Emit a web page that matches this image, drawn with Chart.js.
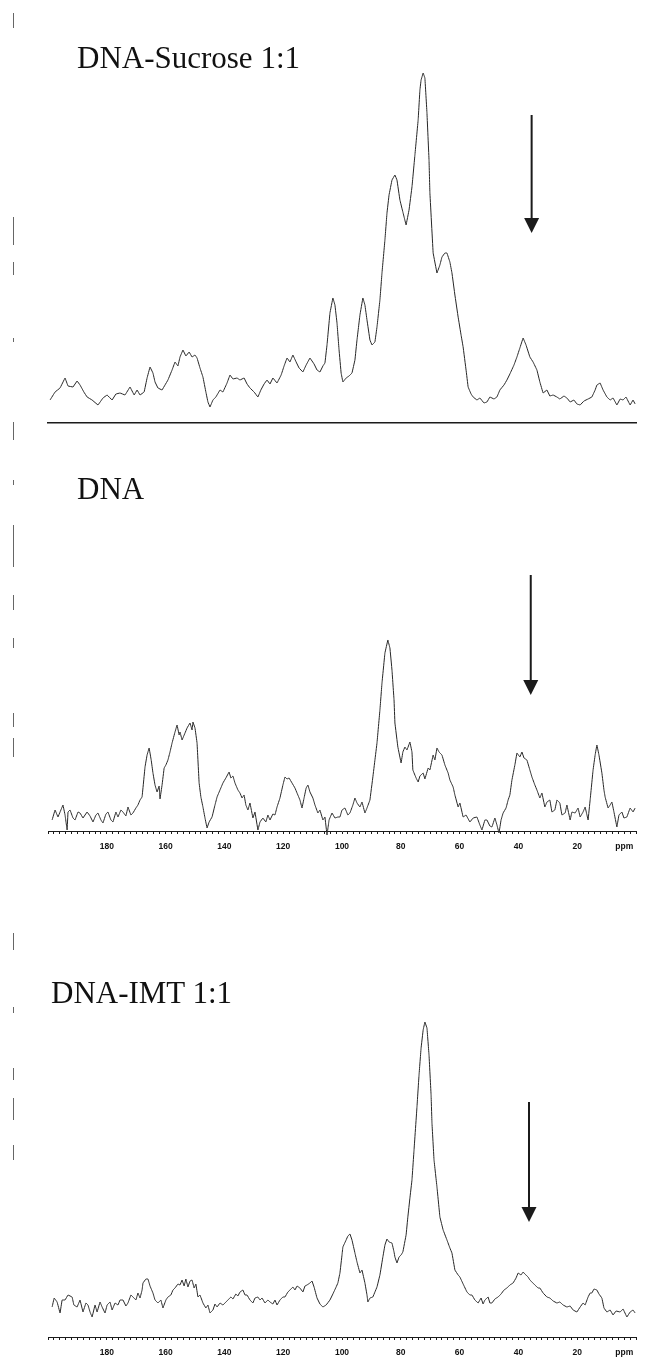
<!DOCTYPE html>
<html>
<head>
<meta charset="utf-8">
<script src="https://cdn.jsdelivr.net/npm/chart.js@4.4.1/dist/chart.umd.min.js"></script>
<style>
  html, body { margin: 0; padding: 0; background: #fff; }
  #page { position: relative; width: 645px; height: 1372px; overflow: hidden; background: #fff; }
  #page canvas { position: absolute; left: 0; }
  .title { position: absolute; font-family: 'Liberation Serif', 'Times New Roman', serif; font-size: 31px; line-height: 31px; color: #111; white-space: nowrap; }
  .edge { position: absolute; left: 13px; width: 1px; background: #666; }
</style>
</head>
<body>
<div id="page">
  <canvas id="sucroseChart" width="645" height="440" style="top:0"></canvas>
  <canvas id="dnaChart" width="645" height="440" style="top:440px"></canvas>
  <canvas id="imtChart" width="645" height="492" style="top:880px"></canvas>
  <div class="title" style="left:77px;top:42px">DNA-Sucrose 1:1</div>
  <div class="title" style="left:77px;top:473px">DNA</div>
  <div class="title" style="left:51px;top:977px">DNA-IMT 1:1</div>
</div>
<script>
Chart.defaults.font.family = "'Liberation Sans', sans-serif";
Chart.defaults.color = '#111';

const INK = '#1b1b1b';
const TRACE = '#262626';

// chemical shift axis (ppm), high field on the right
const tickLabels = [180, 160, 140, 120, 100, 80, 60, 40, 20];
const unitTick = 4;   // where the "ppm" unit sits on the axis

// DNA-Sucrose 1:1
const sucrosePpm = [199.3,197.6,195.9,194.2,193.2,191.5,190.1,189.1,187.8,186.7,
  185.0,183.0,181.3,179.9,178.2,176.9,175.5,173.8,172.1,170.7,
  169.7,168.7,167.3,166.3,165.3,164.3,163.6,162.6,161.2,160.2,
  159.2,157.8,156.8,155.8,155.1,154.1,153.1,152.0,151.0,150.0,
  149.3,148.3,147.3,146.3,145.6,144.9,143.9,142.9,141.5,140.5,
  139.1,138.1,137.1,135.7,134.7,133.3,132.3,131.3,129.9,128.6,
  127.6,126.5,125.5,124.5,123.5,122.1,120.7,119.7,118.7,117.7,
  116.7,115.6,114.6,113.3,112.2,110.9,109.5,108.5,107.5,106.5,
  105.8,105.1,104.1,103.1,102.4,101.7,101.0,100.3,99.7,98.6,
  97.6,96.6,95.6,94.9,93.9,92.9,92.2,91.5,90.5,89.8,
  88.8,88.1,87.1,86.4,85.4,84.7,84.0,83.0,82.0,81.3,
  80.3,79.3,78.2,77.2,76.2,75.2,74.1,73.5,73.1,72.4,
  71.8,71.1,70.4,70.1,69.0,67.7,66.7,66.0,65.0,64.3,
  63.3,62.6,61.6,60.5,59.5,58.8,57.8,57.1,56.1,55.4,
  54.1,53.1,51.7,50.7,49.7,48.3,47.3,46.3,44.9,43.9,
  42.9,41.5,40.5,39.5,38.4,37.4,36.1,35.0,33.7,32.7,
  31.6,30.3,29.3,28.2,26.9,25.9,24.5,23.5,22.4,21.1,
  20.1,19.0,17.7,16.3,15.0,13.9,13.3,12.2,11.2,9.9,
  8.8,7.8,6.5,5.4,4.4,3.4,2.0,1.0,0.3];
const sucroseInt = [23,31,35,45,37,36,42,38,31,26,
  23,18,25,28,23,29,30,28,36,28,
  33,28,31,45,56,50,41,35,33,38,
  43,53,61,57,66,73,67,71,66,68,
  65,55,46,31,21,16,23,26,33,31,
  40,48,44,45,43,45,39,35,31,26,
  33,39,43,39,45,40,48,57,65,61,
  68,61,55,51,58,65,59,53,51,57,
  60,78,110,125,118,100,73,50,41,45,
  47,50,63,83,108,125,118,103,83,78,
  81,96,123,150,183,210,228,243,248,243,
  223,211,198,213,236,268,303,333,343,350,
  345,310,263,230,170,150,158,166,170,170,
  161,150,128,106,88,76,53,36,29,26,
  23,25,20,21,26,24,26,33,38,43,
  49,58,66,75,85,78,66,61,53,41,
  30,33,27,28,26,24,27,25,21,23,
  19,18,22,24,26,33,38,40,33,26,
  23,25,18,24,23,26,18,23,19];

// DNA
const dnaPpm = [198.6,197.6,196.6,195.9,194.9,194.2,193.5,193.2,192.5,191.5,
  190.8,189.8,189.1,188.1,186.7,185.7,184.7,183.7,183.0,182.0,
  181.3,180.3,179.6,178.6,177.9,176.9,176.2,175.2,174.5,173.5,
  172.8,171.8,171.1,170.1,169.4,168.7,168.0,167.0,166.3,165.6,
  164.9,164.3,163.6,162.9,162.2,161.9,161.2,160.5,159.9,159.2,
  158.5,157.8,156.8,156.1,155.4,155.1,154.4,153.4,152.7,151.7,
  151.0,150.7,150.0,149.3,148.6,148.0,147.3,146.6,145.9,145.2,
  144.2,143.2,142.5,141.5,140.5,139.5,138.4,137.8,137.1,136.4,
  135.4,134.7,134.0,133.3,132.7,132.0,131.3,130.3,129.6,128.6,
  127.9,126.9,125.9,125.2,124.5,123.5,122.8,122.1,121.1,120.1,
  119.4,118.7,118.0,117.0,116.0,115.3,114.3,113.6,112.9,112.2,
  111.6,110.9,109.9,109.2,108.2,107.5,106.5,105.8,105.1,104.4,
  103.4,102.4,101.4,100.7,100.0,99.0,98.0,97.3,96.3,95.6,
  94.9,93.9,93.2,92.2,91.5,90.5,89.5,88.8,88.1,87.1,
  86.4,85.4,84.4,83.7,83.0,82.3,82.0,81.0,79.9,79.3,
  78.6,77.9,76.9,76.2,75.9,74.8,74.1,73.5,72.4,71.8,
  70.7,70.1,69.0,68.4,67.7,67.0,66.0,65.0,63.9,63.3,
  62.2,61.6,60.5,59.9,58.8,57.8,56.5,55.4,54.1,53.1,
  52.4,51.4,50.7,49.7,49.0,48.0,47.3,46.6,45.9,45.2,
  44.2,43.5,42.9,42.2,41.2,40.5,39.5,38.8,38.1,37.1,
  36.1,35.4,34.4,33.7,32.7,32.0,31.0,30.3,29.3,28.6,
  27.6,26.9,25.9,25.2,24.1,23.5,22.4,21.8,20.7,19.7,
  19.0,18.0,17.3,16.3,15.6,14.6,13.9,13.3,12.6,11.6,
  10.9,10.5,9.5,8.8,8.2,7.5,6.5,5.8,4.8,4.1,
  3.1,2.0,1.0,0.3];
const dnaInt = [11,21,14,19,26,16,1,19,21,13,
  11,19,18,13,19,15,9,16,18,11,
  8,17,19,11,9,19,14,21,19,15,
  24,16,18,23,26,31,34,64,76,83,
  71,58,46,39,45,32,46,63,66,71,
  79,88,99,106,96,99,91,98,103,108,
  101,109,103,88,48,34,24,13,3,9,
  14,26,34,41,48,53,59,53,55,48,
  41,38,33,36,26,21,28,13,19,1,
  9,13,9,16,11,17,16,24,33,46,
  54,52,53,48,43,38,31,23,33,43,
  46,39,33,26,18,21,11,14,-4,11,
  18,13,14,14,21,23,16,18,26,33,
  28,24,29,18,23,31,54,71,88,121,
  148,178,191,183,161,131,108,84,68,79,
  84,81,89,79,61,53,49,55,58,52,
  63,61,76,71,83,79,76,66,58,51,
  44,36,24,28,14,16,9,13,14,6,
  1,11,11,5,4,13,6,-2,11,18,
  23,31,36,51,66,78,74,79,73,71,
  61,54,46,41,33,38,24,29,31,19,
  21,31,28,16,18,26,11,19,18,23,
  14,19,24,11,31,61,76,86,76,58,
  41,34,23,26,29,19,4,16,19,13,
  14,23,19,23];

// DNA-IMT 1:1
const imtPpm = [198.6,197.9,196.9,195.9,195.2,194.2,193.2,191.8,191.2,190.1,
  189.1,188.1,187.1,186.4,185.7,185.0,184.0,183.3,182.3,181.6,
  180.6,179.9,178.9,178.2,177.2,176.2,175.5,174.5,173.5,172.8,
  171.8,171.1,170.1,169.4,168.7,168.0,167.7,166.7,166.0,165.3,
  164.3,163.6,162.6,161.6,160.9,159.9,159.2,158.2,157.5,156.8,
  155.8,155.1,154.4,153.7,153.1,152.4,151.7,151.0,150.3,149.7,
  149.0,148.3,147.3,146.3,145.6,144.9,143.9,143.2,142.5,141.5,
  140.5,139.8,138.8,137.8,137.1,136.1,135.4,134.7,133.7,133.0,
  132.3,131.3,130.3,129.6,128.6,127.9,127.2,126.2,125.2,124.5,
  123.5,122.8,122.1,121.1,120.1,119.4,118.4,117.7,116.7,116.0,
  115.3,114.3,113.3,112.6,111.9,110.9,110.2,109.5,108.5,107.5,
  106.5,105.4,104.1,103.1,102.0,101.4,100.7,100.0,99.7,98.6,
  98.0,97.3,96.6,95.6,94.9,93.9,93.2,92.2,91.5,91.2,
  90.5,89.5,88.8,88.1,87.1,86.1,85.4,84.7,84.0,83.0,
  82.3,82.0,81.3,80.6,79.9,79.3,78.2,77.6,76.9,76.2,
  75.5,74.5,73.8,73.1,72.4,71.8,71.1,70.4,69.7,69.4,
  68.7,67.7,66.7,65.6,64.3,63.3,62.6,61.6,60.5,59.9,
  58.8,57.5,56.5,55.8,54.8,53.7,52.7,52.0,51.4,50.3,
  49.7,49.0,48.0,46.9,45.9,44.9,43.9,42.9,41.8,40.8,
  40.1,39.1,38.4,37.8,36.7,36.1,35.4,34.4,33.3,32.7,
  31.6,30.3,29.3,28.2,26.9,25.9,24.8,23.5,22.4,21.4,
  20.1,19.0,18.0,17.3,16.3,15.6,15.0,14.3,13.3,12.6,
  11.6,10.9,9.9,8.8,7.8,6.8,5.4,4.4,3.1,2.0,
  1.0,0.3];
const imtInt = [30,39,35,24,37,37,42,40,32,30,
  37,25,34,32,25,20,32,25,35,30,
  24,32,35,27,34,32,37,37,31,34,
  42,40,37,44,39,47,54,58,58,51,
  44,37,34,37,29,37,40,42,47,49,
  53,52,57,51,58,50,56,57,49,53,
  40,42,34,29,32,24,27,33,30,34,
  32,34,37,40,38,43,41,45,47,42,
  42,37,34,39,40,37,39,34,37,35,
  33,37,32,37,40,40,45,47,50,47,
  51,49,45,51,52,54,56,50,39,33,
  30,32,37,43,50,54,64,82,90,97,
  101,103,97,84,75,64,67,54,42,35,
  39,40,45,50,62,80,92,98,95,94,
  85,80,74,80,82,85,102,120,139,157,
  187,230,262,289,307,315,309,282,242,214,
  177,150,120,107,97,89,84,67,62,60,
  53,45,42,42,37,34,39,33,37,40,
  34,34,38,40,43,47,49,52,54,59,
  64,62,65,63,60,57,55,52,49,49,
  44,40,39,36,34,35,32,30,31,27,
  25,30,34,32,40,44,44,48,47,43,
  39,29,25,27,22,26,25,28,20,25,
  27,24];

// arrow marks: [ppm, top intensity, tip intensity]
const sucroseArrow = [35.5, 308, 190];
const dnaArrow = [35.8, 256, 136];
const imtArrow = [36.4, 235, 115];

// little bars along the left edge of the sheet
const edgeMarks = [[13,28],[217,245],[262,275],[338,342],[422,440],[480,485],[525,567],
  [595,610],[638,648],[713,727],[738,757],[933,950],[1007,1013],[1068,1080],[1098,1120],[1145,1160]];

edgeMarks.forEach(([a, b]) => {
    const d = document.createElement('div');
    d.className = 'edge';
    d.style.top = a + 'px';
    d.style.height = (b - a) + 'px';
    document.getElementById('page').appendChild(d);
});

const arrowPlugin = {
    id: 'arrowMark',
    afterDatasetsDraw(chart, args, opts) {
        const { ctx, scales: { x, y } } = chart;
        const [ppm, top, tip] = opts.spec;
        const px = x.getPixelForValue(ppm);
        const y0 = y.getPixelForValue(top);
        const y1 = y.getPixelForValue(tip);
        ctx.save();
        ctx.strokeStyle = INK;
        ctx.fillStyle = INK;
        ctx.lineWidth = 2;
        ctx.beginPath();
        ctx.moveTo(px, y0);
        ctx.lineTo(px, y1 - 12);
        ctx.stroke();
        ctx.beginPath();
        ctx.moveTo(px - 7.5, y1 - 15);
        ctx.lineTo(px + 7.5, y1 - 15);
        ctx.lineTo(px, y1);
        ctx.closePath();
        ctx.fill();
        ctx.restore();
    }
};

function makeSpectrum(id, ppm, ints, arrow, cfg) {
    const pts = ppm.map((p, i) => ({ x: p, y: ints[i] }));
    return new Chart(document.getElementById(id), {
        type: 'line',
        data: {
            datasets: [{
                // tiny tension keeps Chart.js off its per-pixel fast path,
                // which would merge close points into vertical strokes
                data: pts, borderColor: TRACE, borderWidth: 1,
                pointRadius: 0, tension: 0.01, fill: false, clip: false
            }]
        },
        options: {
            responsive: false, animation: false,
            layout: { padding: { left: 48, right: 9, top: cfg.top, bottom: cfg.bottom } },
            plugins: { legend: { display: false }, tooltip: { enabled: false }, arrowMark: { spec: arrow } },
            scales: {
                x: {
                    type: 'linear', reverse: true, min: 0, max: 200,
                    border: { display: true, color: INK, width: cfg.labels ? 1 : 1.5 },
                    grid: { display: cfg.labels, drawOnChartArea: false, drawTicks: true, tickLength: 3, color: INK, lineWidth: 1 },
                    ticks: {
                        display: cfg.labels, stepSize: 2, maxTicksLimit: 101, autoSkip: false,
                        maxRotation: 0, padding: 8, color: '#111',
                        font: { size: 8.5, weight: 'bold' },
                        callback: v => {
                            const r = Math.round(v);
                            if (tickLabels.includes(r)) return String(r);
                            return r === unitTick ? 'ppm' : '';
                        }
                    },
                    afterFit: s => { s.height = cfg.labels ? 24 : 0; }
                },
                y: { display: false, min: 0, max: cfg.yMax }
            }
        },
        plugins: [arrowPlugin]
    });
}

makeSpectrum('sucroseChart', sucrosePpm, sucroseInt, sucroseArrow, { top: 40, bottom: 17, yMax: 383, labels: false });
makeSpectrum('dnaChart', dnaPpm, dnaInt, dnaArrow, { top: 100, bottom: 25, yMax: 291, labels: true });
makeSpectrum('imtChart', imtPpm, imtInt, imtArrow, { top: 100, bottom: 11, yMax: 357, labels: true });
</script>
</body>
</html>
